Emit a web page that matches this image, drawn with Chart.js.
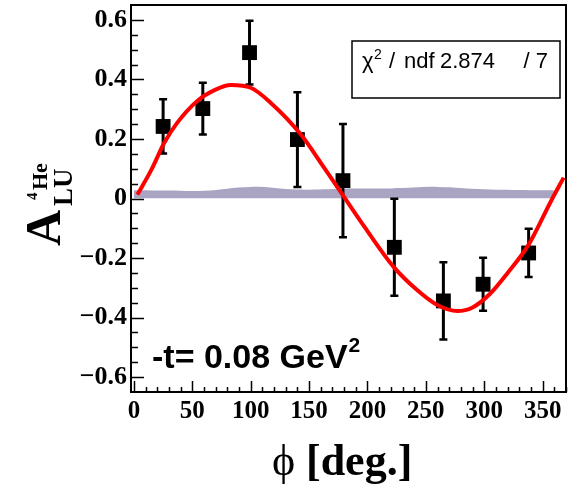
<!DOCTYPE html>
<html>
<head>
<meta charset="utf-8">
<script src="https://cdn.jsdelivr.net/npm/chart.js@4.4.0/dist/chart.umd.min.js"></script>
<style>
  html, body { margin: 0; padding: 0; background: #fff; }
</style>
</head>
<body>
<canvas id="asymChart" width="568" height="487"></canvas>
<script>
const phiBins = [25, 59, 99, 140, 179, 223, 265, 299, 338];
const aluValues = [0.242, 0.302, 0.49, 0.198, 0.06, -0.164, -0.344, -0.288, -0.183];
const aluErrors = [0.091, 0.087, 0.107, 0.159, 0.19, 0.163, 0.13, 0.089, 0.081];

// fit curve
const fitPhi = [3, 15, 26, 37, 54, 69, 83, 100, 117, 143, 160, 177, 197, 222, 242, 259, 277, 290, 305, 320, 338, 357, 368];
const fitValues = [0.013, 0.097, 0.187, 0.254, 0.327, 0.364, 0.381, 0.372, 0.322, 0.215, 0.12, 0.022, -0.093, -0.228, -0.306, -0.356, -0.378, -0.366, -0.32, -0.25, -0.155, -0.01, 0.07];

// systematic error band
const bandPhi = [0, 30, 60, 100, 140, 180, 220, 260, 300, 340, 360];
const bandHigh = [0.028, 0.027, 0.026, 0.039, 0.030, 0.033, 0.034, 0.039, 0.031, 0.028, 0.028];
const bandLow = [0.001, 0.001, 0.001, 0.001, 0.001, 0.001, 0.001, 0.001, 0.001, 0.001, 0.001];

const xTicks = [0, 50, 100, 150, 200, 250, 300, 350];
const yTicks = [-0.6, -0.4, -0.2, 0, 0.2, 0.4, 0.6];

const fitText = { label: 'ndf', value: '2.874', ndf: '7' };
const tText = '-t= 0.08 GeV';

const SERIF = '"Liberation Serif", "DejaVu Serif", serif';
const SANS = '"Liberation Sans", Arial, sans-serif';

const toXY = (xs, ys) => xs.map((x, i) => ({ x, y: ys[i] }));

// error bars go under the markers but over the band
const errorBars = {
    id: 'errorBars',
    beforeDatasetDraw(chart, args) {
        if (args.index !== 1) return;
        const { ctx, scales: { x, y } } = chart;
        ctx.save();
        ctx.strokeStyle = '#000';
        phiBins.forEach((p, i) => {
            const px = x.getPixelForValue(p);
            const top = y.getPixelForValue(aluValues[i] + aluErrors[i]);
            const bot = y.getPixelForValue(aluValues[i] - aluErrors[i]);
            ctx.lineWidth = 3;
            ctx.beginPath();
            ctx.moveTo(px, top);
            ctx.lineTo(px, bot);
            ctx.stroke();
            ctx.lineWidth = 2.5;
            ctx.beginPath();
            ctx.moveTo(px - 4, top); ctx.lineTo(px + 4, top);
            ctx.moveTo(px - 4, bot); ctx.lineTo(px + 4, bot);
            ctx.stroke();
        });
        ctx.restore();
    },
};

// frame, inward ticks and the text bits ROOT puts on the pad
const decorations = {
    id: 'decorations',
    afterDraw(chart) {
        const { ctx, chartArea: a, scales: { x, y } } = chart;
        ctx.save();
        ctx.strokeStyle = '#000';

        ctx.lineWidth = 1.5;
        ctx.beginPath();
        for (let v = -0.6; v <= 0.601; v += 0.05) {
            const py = Math.round(y.getPixelForValue(v)) + 0.5;
            const major = Math.abs(v * 5 - Math.round(v * 5)) < 1e-6;
            ctx.moveTo(a.left, py);
            ctx.lineTo(a.left + (major ? 13 : 7), py);
        }
        for (let v = 0; v <= 370; v += 10) {
            const px = Math.round(x.getPixelForValue(v)) + 0.5;
            ctx.moveTo(px, a.bottom);
            ctx.lineTo(px, a.bottom - (v % 50 === 0 ? 11 : 5));
        }
        ctx.stroke();

        ctx.lineWidth = 2;
        ctx.strokeRect(a.left, a.top, a.right - a.left, a.bottom - a.top);

        // chi2 box
        ctx.fillStyle = '#fff';
        ctx.fillRect(352, 41, 208, 57);
        ctx.lineWidth = 1.5;
        ctx.strokeRect(352, 41, 208, 57);
        ctx.fillStyle = '#000';
        ctx.textBaseline = 'alphabetic';
        ctx.font = '22px ' + SANS;
        ctx.fillText('\u03c7', 362, 68);
        ctx.font = '14px ' + SANS;
        ctx.fillText('2', 374, 59);
        ctx.font = '22px ' + SANS;
        ctx.fillText('/', 389, 68);
        ctx.fillText(fitText.label, 404, 68);
        ctx.fillText(fitText.value, 440, 68);
        ctx.textAlign = 'right';
        ctx.fillText('/ ' + fitText.ndf, 548, 68);
        ctx.textAlign = 'left';

        // -t label
        ctx.font = 'bold 34px ' + SANS;
        ctx.fillText(tText, 152, 368);
        const w = ctx.measureText(tText).width;
        ctx.font = 'bold 21px ' + SANS;
        ctx.fillText('2', 152 + w + 1, 352);

        // x title
        ctx.textAlign = 'left';
        ctx.font = '44px ' + SERIF;
        ctx.fillText('\u03d5', 272, 475);
        ctx.font = 'bold 44px ' + SERIF;
        ctx.fillText('[deg.]', 306, 475);

        // y title, rotated
        ctx.translate(60, 246);
        ctx.rotate(-Math.PI / 2);
        ctx.textAlign = 'left';
        ctx.font = 'bold 50px ' + SERIF;
        ctx.fillText('A', 0, 0);
        ctx.font = 'bold 27px ' + SERIF;
        ctx.fillText('LU', 40, 12);
        ctx.font = 'bold 15px ' + SERIF;
        ctx.fillText('4', 46, -23);
        ctx.font = 'bold 22px ' + SERIF;
        ctx.fillText('He', 56, -13);
        ctx.restore();
    },
};

const ctx = document.getElementById('asymChart').getContext('2d');
new Chart(ctx, {
    type: 'line',
    data: {
        datasets: [
            {
                label: 'fit',
                data: toXY(fitPhi, fitValues),
                borderColor: '#ff0000',
                borderWidth: 4,
                pointRadius: 0,
                cubicInterpolationMode: 'monotone',
                fill: false,
                order: 0,
            },
            {
                label: 'data',
                data: toXY(phiBins, aluValues),
                showLine: false,
                pointStyle: 'rect',
                pointRadius: 10.5,
                backgroundColor: '#000',
                borderWidth: 0,
                order: 1,
            },
            {
                label: 'sysLow',
                data: toXY(bandPhi, bandLow),
                borderWidth: 0,
                pointRadius: 0,
                fill: false,
                order: 3,
            },
            {
                label: 'sysHigh',
                data: toXY(bandPhi, bandHigh),
                borderWidth: 0,
                pointRadius: 0,
                tension: 0.4,
                fill: '-1',
                backgroundColor: 'rgb(168,164,194)',
                order: 2,
            },
        ],
    },
    options: {
        responsive: false,
        animation: false,
        layout: { autoPadding: false, padding: { top: 5, right: 2, left: 0, bottom: 0 } },
        plugins: { legend: { display: false }, tooltip: { enabled: false } },
        scales: {
            x: {
                type: 'linear',
                min: -2.5,
                max: 370,
                grid: { display: false, drawTicks: false },
                border: { display: false },
                afterBuildTicks: (s) => { s.ticks = xTicks.map((v) => ({ value: v })); },
                afterFit: (s) => { s.height = 95; s.paddingLeft = 0; s.paddingRight = 0; },
                ticks: {
                    color: '#000',
                    padding: 5,
                    maxRotation: 0,
                    autoSkip: false,
                    font: { family: SERIF, weight: 'bold', size: 25 },
                },
            },
            y: {
                type: 'linear',
                min: -0.65,
                max: 0.65,
                grid: { display: false, drawTicks: false },
                border: { display: false },
                afterBuildTicks: (s) => { s.ticks = yTicks.map((v) => ({ value: v })); },
                afterFit: (s) => { s.width = 131; s.paddingTop = 0; s.paddingBottom = 0; },
                ticks: {
                    color: '#000',
                    padding: 4,
                    font: { family: SERIF, weight: 'bold', size: 26 },
                    callback: (v) => v === 0 ? '0' : (v < 0 ? '\u2212' + Math.abs(v).toFixed(1) : v.toFixed(1)),
                },
            },
        },
    },
    plugins: [errorBars, decorations],
});
</script>
</body>
</html>
